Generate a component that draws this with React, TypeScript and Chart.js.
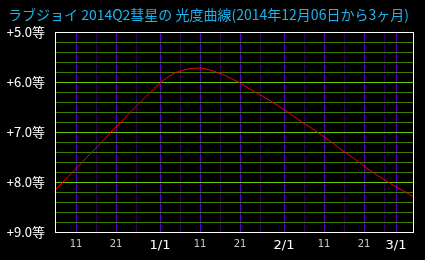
import React, { useEffect, useRef } from "react";
import { Chart, registerables } from "chart.js";

Chart.register(...registerables);

const titleText = "ラブジョイ 2014Q2彗星の 光度曲線(2014年12月06日から3ヶ月)";

// days since 2014-12-06
const days = [0, 2, 4, 6, 8, 10, 12, 14, 16, 18, 20, 22, 24, 26, 28, 30, 32, 34, 36, 38, 40, 42, 44, 46, 48, 50, 52, 54, 56, 58, 60, 62, 64, 66, 68, 70, 72, 74, 76, 78, 80, 82, 84, 86, 88, 90];
const magnitudes = [8.14, 7.98, 7.81, 7.65, 7.48, 7.32, 7.15, 6.98, 6.82, 6.65, 6.49, 6.33, 6.17, 6.02, 5.9, 5.81, 5.76, 5.73, 5.72, 5.75, 5.8, 5.86, 5.94, 6.02, 6.12, 6.21, 6.3, 6.4, 6.5, 6.61, 6.72, 6.83, 6.93, 7.04, 7.15, 7.27, 7.39, 7.5, 7.62, 7.74, 7.85, 7.95, 8.05, 8.14, 8.23, 8.33];

const xTickDays = [5, 10, 15, 20, 26, 31, 36, 41, 46, 51, 57, 62, 67, 72, 77, 82, 85];
const xTickLabels = ["11", "", "21", "", "1/1", "", "11", "", "21", "", "2/1", "", "11", "", "21", "", "3/1"];
const monthLabels = ["1/1", "2/1", "3/1"];

const yTickValues = [5.0, 5.2, 5.4, 5.6, 5.8, 6.0, 6.2, 6.4, 6.6, 6.8, 7.0, 7.2, 7.4, 7.6, 7.8, 8.0, 8.2, 8.4, 8.6, 8.8, 9.0];
const yMajorValues = [5, 6, 7, 8, 9];

const isMajorY = (v: number) => yMajorValues.some((m) => Math.abs(m - v) < 1e-6);

export default function App() {
  const ref = useRef<HTMLCanvasElement | null>(null);

  useEffect(() => {
    document.body.style.margin = "0";
    document.body.style.background = "#000";
    const canvas = ref.current;
    if (!canvas) return;

    const framePlugin = {
      id: "frame",
      beforeDraw(chart: any) {
        const c = chart.ctx;
        c.save();
        c.fillStyle = "#000";
        c.fillRect(0, 0, chart.width, chart.height);
        c.restore();
      },
      beforeDatasetsDraw(chart: any) {
        const c = chart.ctx;
        const a = chart.chartArea;
        const xs = chart.scales.x;
        const ys = chart.scales.y;
        const top = Math.round(a.top);
        const bottom = Math.round(a.bottom);
        const left = Math.round(a.left);
        const right = Math.round(a.right);
        c.save();
        c.lineWidth = 1;
        xTickDays.forEach((d, i) => {
          const px = Math.round(xs.getPixelForValue(d)) + 0.5;
          c.strokeStyle = xTickLabels[i] !== "" ? "#5a00c4" : "#2e005c";
          c.beginPath();
          c.moveTo(px, top);
          c.lineTo(px, bottom);
          c.stroke();
        });
        yTickValues.forEach((v) => {
          const py = Math.round(ys.getPixelForValue(v)) + 0.5;
          c.strokeStyle = isMajorY(v) ? "#66cc00" : "#3f7f00";
          c.beginPath();
          c.moveTo(left, py);
          c.lineTo(right, py);
          c.stroke();
        });
        c.restore();
      },
      afterDraw(chart: any) {
        const c = chart.ctx;
        const a = chart.chartArea;
        c.save();
        c.strokeStyle = "#ffffff";
        c.lineWidth = 1;
        c.strokeRect(Math.round(a.left) + 0.5, Math.round(a.top) + 0.5, Math.round(a.right - a.left), Math.round(a.bottom - a.top));
        c.fillStyle = "#1ab4f0";
        c.font = "14px 'Noto Sans CJK JP'";
        c.textBaseline = "middle";
        c.textAlign = "left";
        c.fillText(titleText, 8, 15);
        c.restore();
      },
    };

    const chart = new Chart(canvas, {
      type: "line",
      data: {
        datasets: [
          {
            data: days.map((d, i) => ({ x: d, y: magnitudes[i] })),
            borderColor: "#ff0000",
            borderWidth: 1,
            pointRadius: 0,
            tension: 0.2,
            fill: false,
          },
        ],
      },
      options: {
        animation: false,
        responsive: false,
        events: [],
        layout: { padding: { left: 0, right: 12, top: 32, bottom: 0 } },
        plugins: { legend: { display: false }, title: { display: false }, tooltip: { enabled: false } },
        scales: {
          x: {
            type: "linear",
            min: -0.25,
            max: 89.25,
            afterBuildTicks: (scale: any) => {
              scale.ticks = xTickDays.map((v) => ({ value: v }));
            },
            afterFit: (scale: any) => {
              scale.height = 28;
            },
            border: { display: false },
            grid: { display: false, drawTicks: false },
            ticks: {
              autoSkip: false,
              maxRotation: 0,
              padding: 6,
              callback: (value: any) => {
                const i = xTickDays.indexOf(value);
                return i >= 0 ? xTickLabels[i] : "";
              },
              color: (ctx: any) => {
                const i = xTickDays.indexOf(ctx.tick?.value);
                return i >= 0 && monthLabels.includes(xTickLabels[i]) ? "#ffffff" : "#c8c8c8";
              },
              font: (ctx: any) => {
                const i = xTickDays.indexOf(ctx.tick?.value);
                return i >= 0 && monthLabels.includes(xTickLabels[i])
                  ? { family: "'DejaVu Sans'", size: 13 }
                  : { family: "'DejaVu Sans'", size: 10 };
              },
            },
          },
          y: {
            type: "linear",
            reverse: true,
            min: 5,
            max: 9,
            afterBuildTicks: (scale: any) => {
              scale.ticks = yTickValues.map((v) => ({ value: v }));
            },
            afterFit: (scale: any) => {
              scale.width = 55;
            },
            border: { display: false },
            grid: { display: false, drawTicks: false },
            ticks: {
              autoSkip: false,
              padding: 10,
              color: "#ffffff",
              font: { family: "'Noto Sans CJK JP'", size: 13 },
              callback: (value: any) => (isMajorY(Number(value)) ? "+" + Number(value).toFixed(1) + "等" : ""),
            },
          },
        },
      },
      plugins: [framePlugin],
    } as any);

    return () => chart.destroy();
  }, []);

  return (
    <div style={{ position: "fixed", left: 0, top: 0, width: 425, height: 260, background: "#000" }}>
      <canvas ref={ref} width={425} height={260} />
    </div>
  );
}
